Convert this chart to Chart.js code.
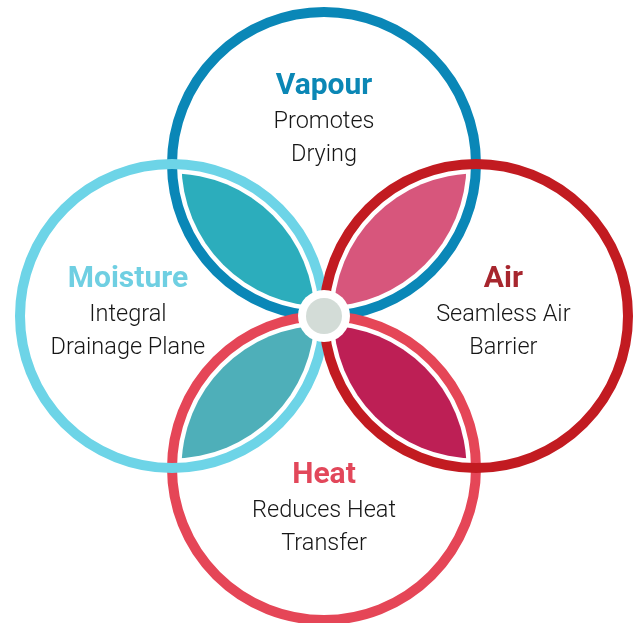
<!DOCTYPE html>
<html>
<head>
<meta charset="utf-8">
<script src="https://cdn.jsdelivr.net/npm/chart.js@4/dist/chart.umd.min.js"></script>
<style>
  html, body { margin: 0; padding: 0; background: #fff; }
  #wrap { width: 639px; height: 623px; position: relative; }
</style>
</head>
<body>
<div id="wrap"><canvas id="vennChart"></canvas></div>
<script>
// circles: one per building-envelope control, centre offsets in units of the circle radius
const categories = ['Vapour', 'Moisture', 'Air', 'Heat']
const descriptions = [
    ['Promotes', 'Drying'],
    ['Integral', 'Drainage Plane'],
    ['Seamless Air', 'Barrier'],
    ['Reduces Heat', 'Transfer']
]
const centerX = [0, -1, 1, 0]
const centerY = [1, 0, 0, -1]
const radius = [1, 1, 1, 1]
// overlapping pairs (index into categories) that form the petals
const petalPairs = [[0, 1], [0, 2], [1, 3], [2, 3]]

const ringColors = ['#0a87b7', '#6dd4e7', '#c21b21', '#e54657']
const titleColors = ['#0b87b5', '#6fcfe2', '#a7262e', '#e2475a']
const petalColors = ['#2cadbc', '#d7567c', '#4eafb9', '#bd1f55']
// label anchors (title baseline) in data units
const labelPos = [[0, 1.46], [-1.29, 0.19], [1.18, 0.19], [0, -1.1]]

const vennPlugin = {
    id: 'venn',
    afterDatasetsDraw(chart, args, opts) {
        const { ctx, scales } = chart
        const x = scales.x, y = scales.y
        const px = (v) => x.getPixelForValue(v)
        const py = (v) => y.getPixelForValue(v)
        const pr = (i) => px(centerX[i] + radius[i]) - px(centerX[i])

        ctx.save()
        // petals: intersection of two inset circles
        petalPairs.forEach(([a, b], k) => {
            const inset = opts.ringWidth / 2 + opts.gap
            ctx.save()
            ctx.beginPath()
            ctx.arc(px(centerX[a]), py(centerY[a]), pr(a) - inset, 0, Math.PI * 2)
            ctx.clip()
            ctx.beginPath()
            ctx.arc(px(centerX[b]), py(centerY[b]), pr(b) - inset, 0, Math.PI * 2)
            ctx.fillStyle = petalColors[k]
            ctx.fill()
            ctx.restore()
        })

        // rings: top and bottom first, side rings cross over them
        opts.ringOrder.forEach((i) => {
            ctx.beginPath()
            ctx.arc(px(centerX[i]), py(centerY[i]), pr(i), 0, Math.PI * 2)
            ctx.lineWidth = opts.ringWidth
            ctx.strokeStyle = ringColors[i]
            ctx.stroke()
        })

        // hub where all circles meet
        ctx.beginPath()
        ctx.arc(px(0), py(0), opts.hubOuter, 0, Math.PI * 2)
        ctx.fillStyle = '#ffffff'
        ctx.fill()
        ctx.beginPath()
        ctx.arc(px(0), py(0), opts.hubInner, 0, Math.PI * 2)
        ctx.fillStyle = '#d3dcd7'
        ctx.fill()

        // labels
        ctx.textAlign = 'center'
        ctx.textBaseline = 'alphabetic'
        categories.forEach((name, i) => {
            const lx = px(labelPos[i][0])
            const ly = py(labelPos[i][1])
            ctx.font = opts.titleFont
            ctx.fillStyle = titleColors[i]
            ctx.fillText(name, lx, ly)
            ctx.font = opts.bodyFont
            ctx.fillStyle = '#161616'
            descriptions[i].forEach((line, j) => {
                ctx.fillText(line, lx, ly + opts.lineOffsets[j])
            })
        })
        ctx.restore()
    }
}

const ctxEl = document.getElementById('vennChart')
new Chart(ctxEl, {
    type: 'scatter',
    data: {
        datasets: [
            {
                label: 'circles',
                data: categories.map((c, i) => ({ x: centerX[i], y: centerY[i] })),
                pointRadius: 0,
                pointHoverRadius: 0
            }
        ]
    },
    options: {
        responsive: true,
        maintainAspectRatio: false,
        animation: false,
        events: [],
        layout: { padding: 0 },
        scales: {
            x: { type: 'linear', display: false, min: -324 / 152, max: 315 / 152 },
            y: { type: 'linear', display: false, min: -307 / 152, max: 316 / 152 }
        },
        plugins: {
            legend: { display: false },
            tooltip: { enabled: false },
            venn: {
                ringWidth: 10,
                gap: 4.5,
                ringOrder: [0, 3, 1, 2],
                hubOuter: 26,
                hubInner: 18,
                titleFont: 'bold 30px Roboto, "DejaVu Sans", sans-serif',
                bodyFont: '300 23.5px Roboto, "DejaVu Sans", sans-serif',
                lineOffsets: [34, 67]
            }
        }
    },
    plugins: [vennPlugin]
})
</script>
</body>
</html>
